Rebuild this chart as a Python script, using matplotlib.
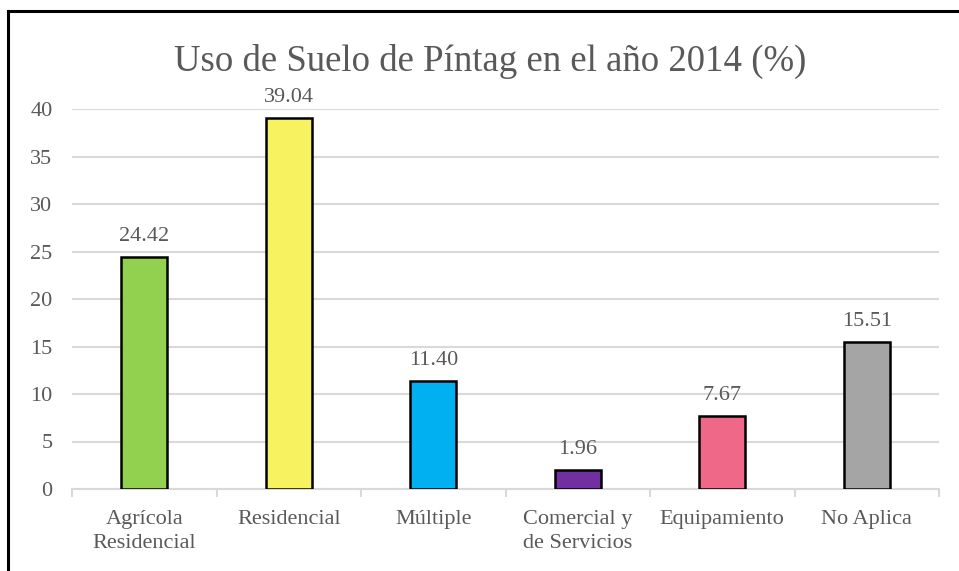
import matplotlib
matplotlib.use("Agg")
import matplotlib.pyplot as plt
from matplotlib.lines import Line2D

categories = ["Agrícola\nResidencial", "Residencial", "Múltiple",
              "Comercial y\nde Servicios", "Equipamiento", "No Aplica"]
values = [24.42, 39.04, 11.40, 1.96, 7.67, 15.51]
value_labels = ["24.42", "39.04", "11.40", "1.96", "7.67", "15.51"]
colors = ["#92D050", "#F7F260", "#00B0F0", "#7030A0", "#F06888", "#A5A5A5"]
yticks = [0, 5, 10, 15, 20, 25, 30, 35, 40]
title = "Uso de Suelo de Píntag en el año 2014 (%)"

plt.rcParams["font.family"] = ["Liberation Serif", "DejaVu Serif"]
text_color = "#595959"
grid_color = "#D9D9D9"

W, H = 959, 571
fig = plt.figure(figsize=(W / 100, H / 100), dpi=100)

# plot area in pixel terms
left, right, bottom, top = 72, 939, 489, 109
ax = fig.add_axes([left / W, (H - bottom) / H, (right - left) / W, (bottom - top) / H])

x = list(range(len(categories)))
ax.bar(x, values, width=0.32, color=colors, edgecolor="black", linewidth=1.8, zorder=3)

for xi, v, lbl in zip(x, values, value_labels):
    ax.annotate(lbl, (xi, v), xytext=(0, 8), textcoords="offset points",
                ha="center", va="bottom", fontsize=16, color=text_color)

ax.set_xlim(-0.5, len(categories) - 0.5)
ax.set_ylim(0, 40)
ax.set_yticks(yticks)
ax.set_yticklabels([str(t) for t in yticks], fontsize=16, color=text_color)
ax.tick_params(axis="y", length=0, pad=14)

# category separators as major ticks, labels on minor ticks
ax.set_xticks([i - 0.5 for i in range(len(categories) + 1)])
ax.set_xticklabels([])
ax.tick_params(axis="x", which="major", length=6, width=1.5, color=grid_color)
ax.set_xticks(x, minor=True)
ax.set_xticklabels(categories, minor=True, fontsize=16, color=text_color,
                   linespacing=1.4)
ax.tick_params(axis="x", which="minor", length=0, pad=15)

ax.grid(axis="y", color=grid_color, linewidth=1.5, zorder=0)
ax.set_axisbelow(True)
for s in ["top", "right", "left"]:
    ax.spines[s].set_visible(False)
ax.spines["bottom"].set_color(grid_color)
ax.spines["bottom"].set_linewidth(1.5)

fig.text(490 / W, 1 - 61 / H, title, ha="center", va="center",
         fontsize=26.5, color=text_color)

# chart frame
fig.add_artist(Line2D([8 / W, 8 / W], [0, 1 - 11 / H], color="black", linewidth=2.2,
                      transform=fig.transFigure))
fig.add_artist(Line2D([8 / W, 1], [1 - 11 / H, 1 - 11 / H], color="black", linewidth=2.2,
                      transform=fig.transFigure))

fig.savefig("out.png", dpi=100)
